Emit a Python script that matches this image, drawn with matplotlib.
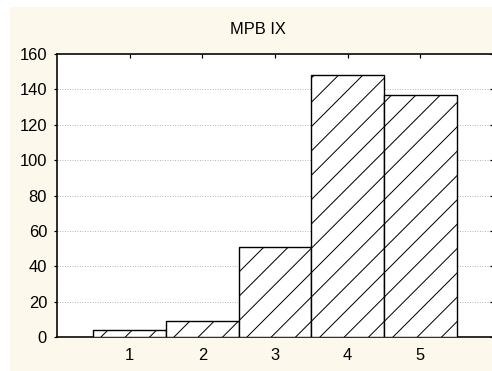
import matplotlib
matplotlib.use("Agg")
import matplotlib.pyplot as plt
from matplotlib.patches import Rectangle

categories = [1, 2, 3, 4, 5]
values = [4, 9, 51, 148, 137]
yticks = [0, 20, 40, 60, 80, 100, 120, 140, 160]
title = "MPB IX"

DPI = 146
W, H = 492, 371


def px(v):
    return v * 72.0 / DPI


plt.rcParams['font.family'] = ['Liberation Sans', 'DejaVu Sans']
plt.rcParams['hatch.linewidth'] = px(1.0)
plt.rcParams['hatch.color'] = 'black'

fig = plt.figure(figsize=(W / DPI, H / DPI), dpi=DPI)
fig.patch.set_facecolor('white')
fig.patches.append(Rectangle((10 / W, 0), 1 - 10 / W, (H - 7) / H,
                             transform=fig.transFigure, facecolor='#fdf8ec',
                             edgecolor='none', zorder=-10))

ax = fig.add_axes([57 / W, (H - 337) / H, (493 - 57) / W, (337 - 54) / H])
ax.set_facecolor('white')
ax.bar(categories, values, width=1.0, color='white', edgecolor='black',
       linewidth=px(1.4), hatch='//', zorder=3)

ax.set_xlim(0, 6)
ax.set_ylim(0, 160)
ax.set_xticks(categories)
ax.set_xticklabels([str(c) for c in categories])
ax.set_yticks(yticks)
ax.set_yticklabels([str(t) for t in yticks])

ax.yaxis.grid(True, linestyle=(0, (1, 1.5)), color='#b8b8b8', linewidth=px(1.0), zorder=0)
ax.set_axisbelow(True)

for s in ['left', 'bottom', 'top']:
    ax.spines[s].set_linewidth(px(1.6))
    ax.spines[s].set_color('black')
ax.spines['right'].set_visible(False)

ax.tick_params(axis='y', which='both', left=True, right=True, direction='out',
               length=px(3), width=px(1.2), pad=px(7), labelsize=px(16.5))
ax.tick_params(axis='x', which='both', bottom=True, top=True, direction='in',
               length=px(4), width=px(1.2), pad=px(11.5), labelsize=px(16.5))
for t in ax.yaxis.get_major_ticks():
    t.tick2line.set_marker(0)
    t.tick2line.set_markersize(px(3))

fig.text(258 / W, (H - 30) / H, title, ha='center', va='center', fontsize=px(16.5))

fig.savefig('out.png', dpi=DPI, facecolor=fig.get_facecolor())
